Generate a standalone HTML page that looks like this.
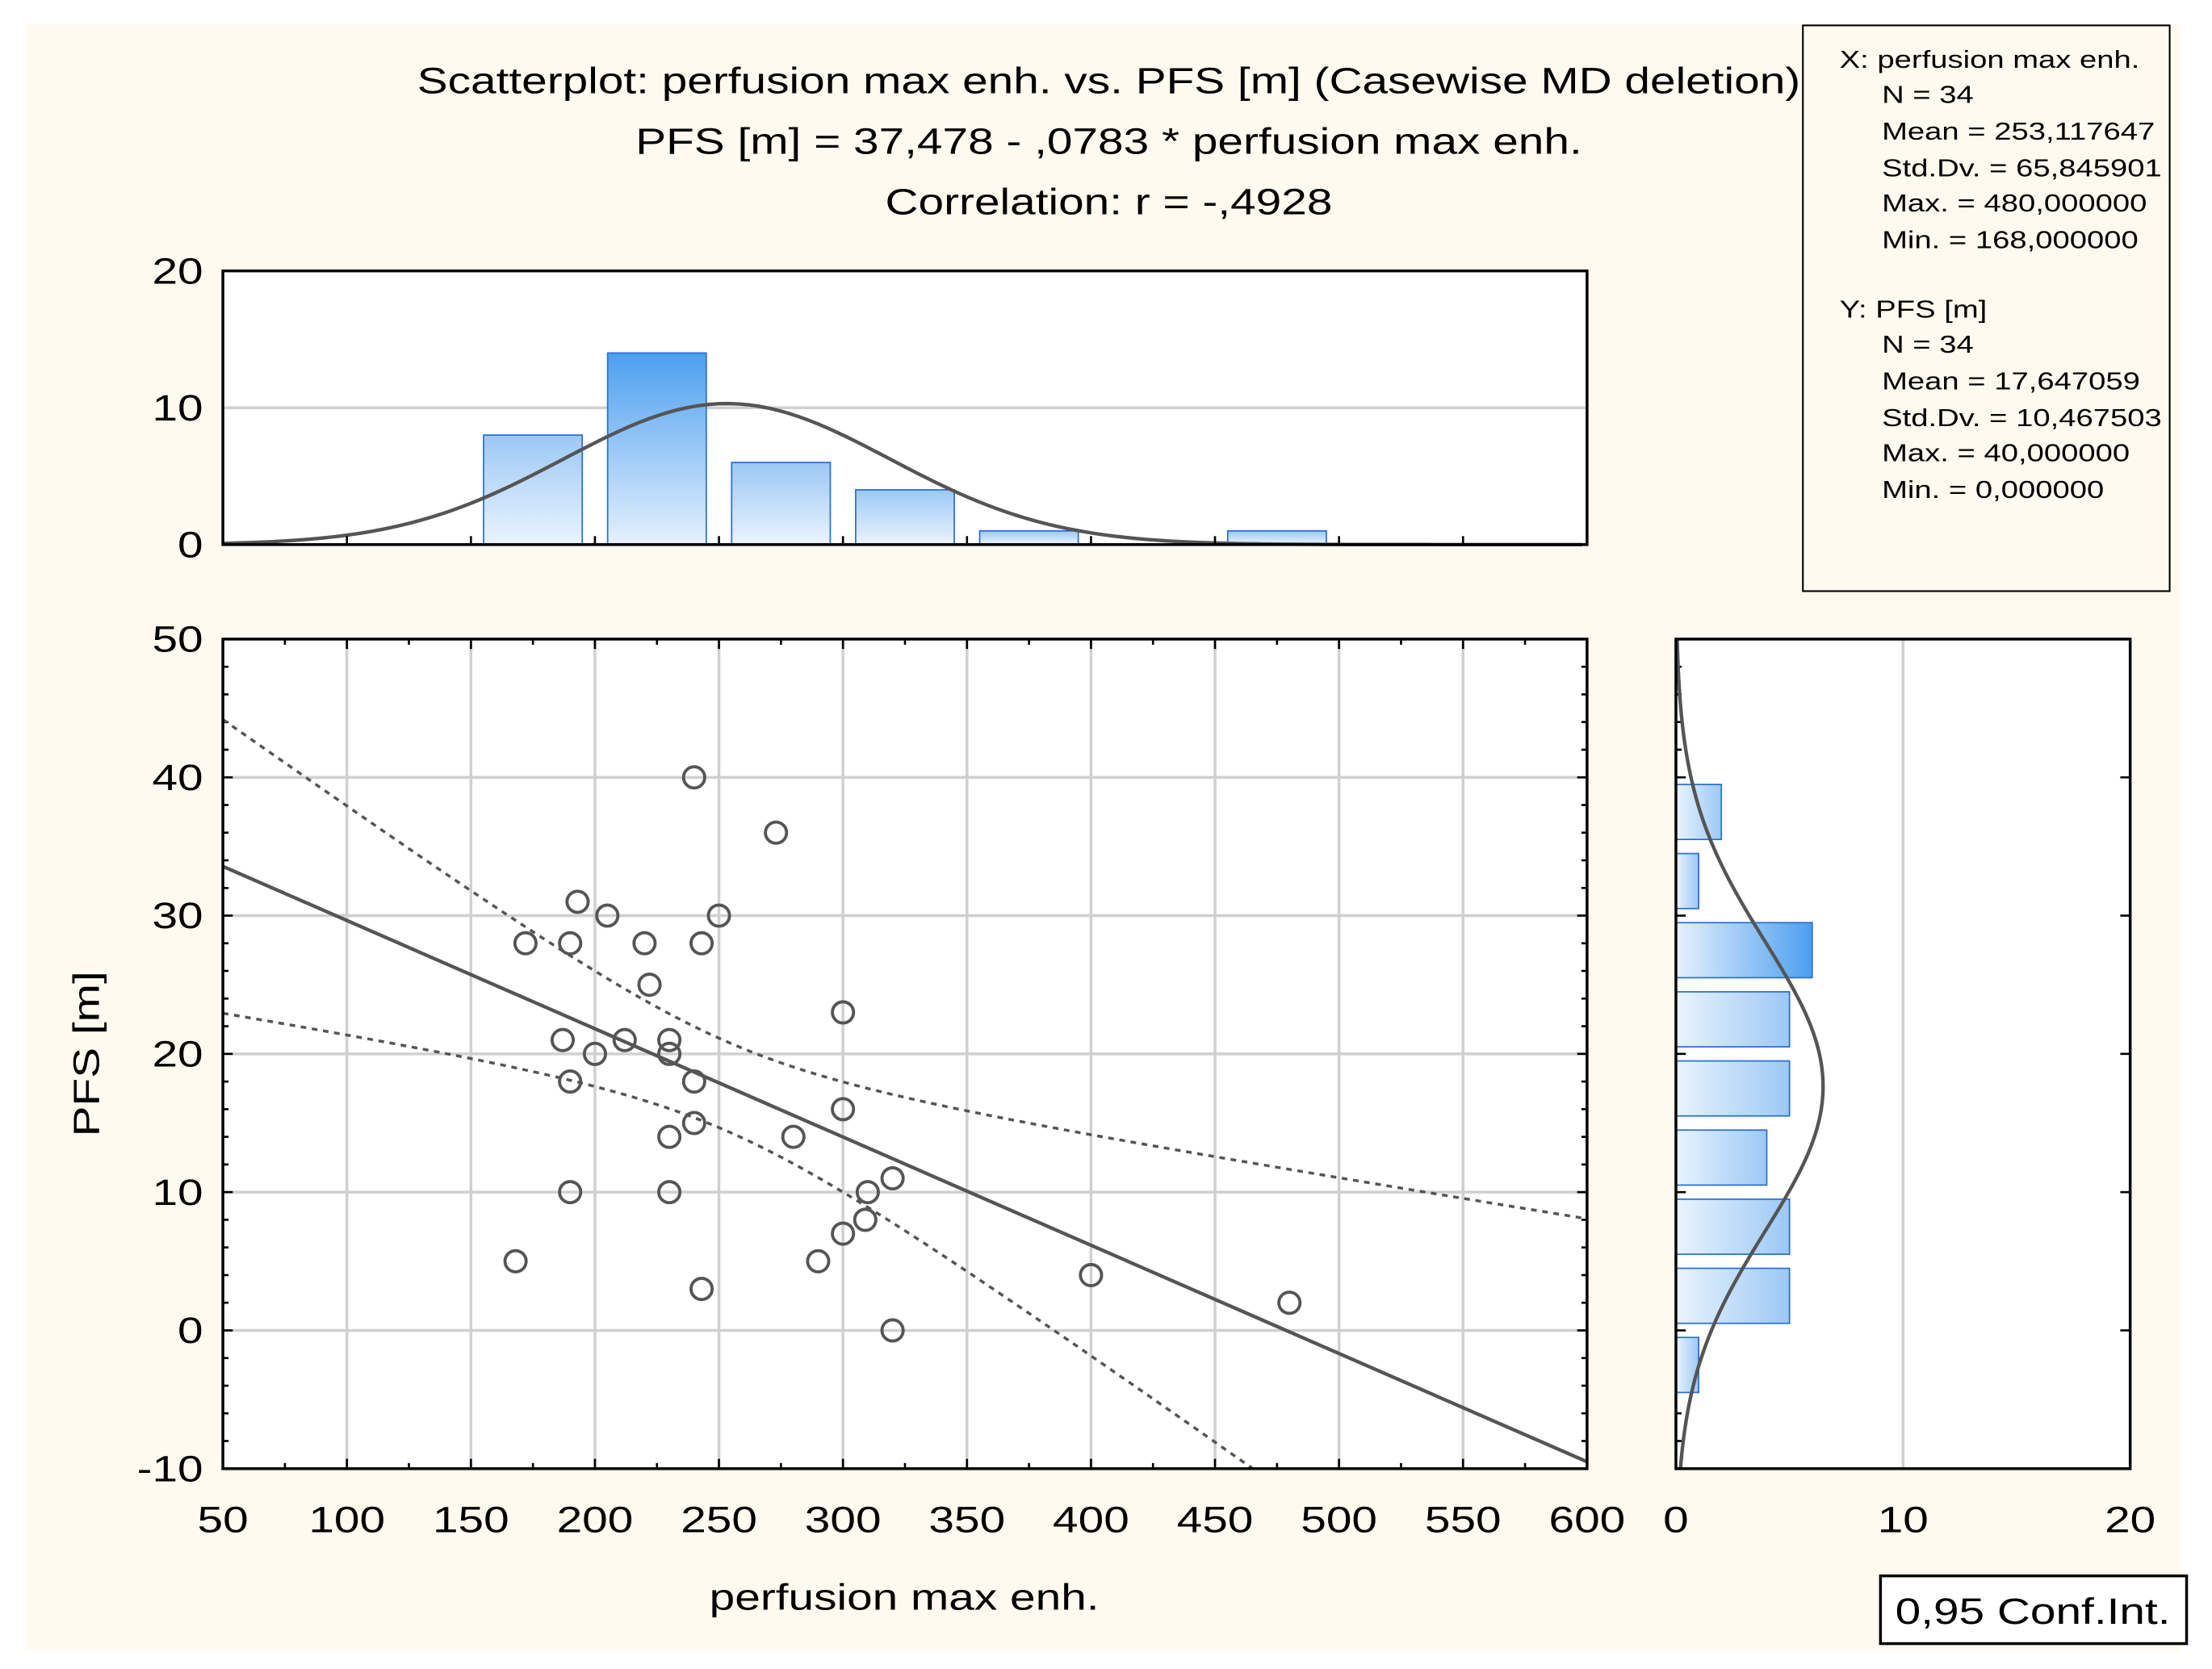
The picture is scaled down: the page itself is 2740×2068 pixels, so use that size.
<!DOCTYPE html>
<html><head><meta charset="utf-8"><style>
html,body{margin:0;padding:0;background:#fff;}
svg{display:block;font-family:"Liberation Sans",Arial,sans-serif;}
text{transform-box:fill-box;transform:scaleX(1.25);transform-origin:left center;}
text.m{transform-origin:center center;}
text.e{transform-origin:right center;}
</style></head><body>
<svg id="chart" width="2740" height="2068" viewBox="0 0 1568 1183" preserveAspectRatio="none" xmlns="http://www.w3.org/2000/svg">
<defs>
<linearGradient id="gv" x1="0" y1="0" x2="0" y2="1"><stop offset="0" stop-color="#9cc8f5"/><stop offset="1" stop-color="#eaf4fe"/></linearGradient>
<linearGradient id="gv2" x1="0" y1="0" x2="0" y2="1"><stop offset="0" stop-color="#4d9ff0"/><stop offset="1" stop-color="#e6f1fd"/></linearGradient>
<linearGradient id="gh" x1="1" y1="0" x2="0" y2="0"><stop offset="0" stop-color="#9cc8f5"/><stop offset="1" stop-color="#eaf4fe"/></linearGradient>
<linearGradient id="gh2" x1="1" y1="0" x2="0" y2="0"><stop offset="0" stop-color="#4d9ff0"/><stop offset="1" stop-color="#e6f1fd"/></linearGradient>
</defs>
<rect x="18" y="17" width="1527" height="1153" fill="#fefaef"/>
<g font-size="26" text-anchor="middle" fill="#000">
<text class="m" x="786" y="66">Scatterplot: perfusion max enh. vs. PFS [m] (Casewise MD deletion)</text>
<text class="m" x="786" y="109">PFS [m] = 37,478 - ,0783  * perfusion max enh.</text>
<text class="m" x="786" y="152">Correlation: r = -,4928</text>
</g>
<g id="stats" font-size="17.5">
<rect x="1278" y="18" width="260" height="401" fill="#fefaef" stroke="#000" stroke-width="1.2"/>
<text x="1304" y="48">X:  perfusion max enh.</text>
<text x="1334" y="73">N = 34</text>
<text x="1334" y="99">Mean = 253,117647</text>
<text x="1334" y="125">Std.Dv. = 65,845901</text>
<text x="1334" y="150">Max. = 480,000000</text>
<text x="1334" y="176">Min. = 168,000000</text>
<text x="1304" y="225">Y:  PFS [m]</text>
<text x="1334" y="250">N = 34</text>
<text x="1334" y="276">Mean = 17,647059</text>
<text x="1334" y="302">Std.Dv. = 10,467503</text>
<text x="1334" y="327">Max. = 40,000000</text>
<text x="1334" y="353">Min. = 0,000000</text>
</g>
<g id="topHist"></g>
<g id="mainPlot"></g>
<g id="rightHist"></g>
<g>
<rect x="1333" y="1117" width="217" height="48" fill="#fff" stroke="#000" stroke-width="2"/>
<text class="m" x="1441" y="1151" font-size="26" text-anchor="middle">0,95 Conf.Int.</text>
</g>
<text class="m" x="641" y="1141" font-size="26" text-anchor="middle">perfusion max enh.</text>
<g transform="translate(70,747) rotate(-90)"><text class="m" x="0" y="0" font-size="26" text-anchor="middle">PFS [m]</text></g>
</svg>
<script>
const xs = [240,273,193,205,250,172,190,220,243,222,300,187,212,230,200,230,190,240,300,240,230,280,320,190,230,310,309,300,168,290,243,400,480,320];
const ys = [40,36,31,30,30,28,28,28,28,25,23,21,21,21,20,20,18,18,16,15,14,14,11,10,10,10,8,7,5,5,3,4,2,0];
const xBinStarts = [150,200,250,300,350,400,450];
const xBinCounts = [8,14,6,4,1,0,1];
const yBinStarts = [-5,0,5,10,15,20,25,30,35];
const yBinCounts = [1,5,5,4,5,5,6,1,2];
const xTicks = [50,100,150,200,250,300,350,400,450,500,550,600];
const yTicks = [-10,0,10,20,30,40,50];
const histTicks = [0,10,20];
const intercept = 37.478, slope = -0.0783;

const NS = 'http://www.w3.org/2000/svg';
function mk(tag, attrs, parent){const e=document.createElementNS(NS,tag);for(const k in attrs)e.setAttribute(k,attrs[k]);parent.appendChild(e);return e;}
const X0=158,X1=1125,Y0=1041,Y1=453;
const sx=v=>X0+(v-50)/550*(X1-X0);
const sy=v=>Y0-(v+10)/60*(Y0-Y1);
const TY0=386,TY1=192; const thy=v=>TY0-v/20*(TY0-TY1);
const RX0=1188,RX1=1510; const rhx=v=>RX0+v/20*(RX1-RX0);
const n=xs.length;
const meanOf=a=>a.reduce((s,v)=>s+v,0)/a.length;
const mx=meanOf(xs), my=meanOf(ys);
const sdOf=(a,m)=>Math.sqrt(a.reduce((s,v)=>s+(v-m)*(v-m),0)/(a.length-1));
const sdx=sdOf(xs,mx), sdy=sdOf(ys,my);
const sxx=xs.reduce((s,v)=>s+(v-mx)*(v-mx),0);
let sse=0; for(let i=0;i<n;i++){const r=ys[i]-(intercept+slope*xs[i]);sse+=r*r;}
const seRes=Math.sqrt(sse/(n-2));
const tcrit=2.037;

// top histogram
const tg=document.getElementById('topHist');
mk('rect',{x:X0,y:TY1,width:X1-X0,height:TY0-TY1,fill:'#fff'},tg);
histTicks.forEach(t=>{
  if(t>0&&t<20){const l=mk('line',{x1:X0,x2:X1,y1:thy(t),y2:thy(t),stroke:'#d0d0d0','stroke-width':2},tg);
  
  }
  const tx=mk('text',{x:X0-14,y:thy(t)+9,'font-size':26,'text-anchor':'end','class':'e'},tg);tx.textContent=t;
  
  
});
const maxX=Math.max(...xBinCounts);
xBinStarts.forEach((b,i)=>{
  if(!xBinCounts[i])return;
  const r=mk('rect',{x:sx(b)+9,y:thy(xBinCounts[i]),width:sx(b+50)-sx(b)-18,height:TY0-thy(xBinCounts[i]),fill:xBinCounts[i]===maxX?'url(#gv2)':'url(#gv)',stroke:'#2a6fd6','stroke-width':1},tg);
  
  
});
let pts=[];for(let v=50;v<=600;v+=4){const d=n*50/(sdx*Math.sqrt(2*Math.PI))*Math.exp(-((v-mx)**2)/(2*sdx*sdx));pts.push(sx(v)+','+Math.max(thy(d),TY1));}
let nc=mk('polyline',{points:pts.join(' '),fill:'none',stroke:'#555','stroke-width':2.5},tg);


xTicks.forEach(t=>{mk('line',{x1:sx(t),x2:sx(t),y1:TY0,y2:TY0-6,stroke:'#000','stroke-width':1.5},tg);});
mk('rect',{x:X0,y:TY1,width:X1-X0,height:TY0-TY1,fill:'none',stroke:'#000','stroke-width':2},tg);

// main scatter
const g=document.getElementById('mainPlot');
mk('rect',{x:X0,y:Y1,width:X1-X0,height:Y0-Y1,fill:'#fff'},g);
xTicks.forEach(t=>{
  if(t>50&&t<600){const l=mk('line',{x1:sx(t),x2:sx(t),y1:Y1,y2:Y0,stroke:'#d0d0d0','stroke-width':2},g);
  
  }
  const tx=mk('text',{x:sx(t),y:Y0+45,'font-size':26,'text-anchor':'middle','class':'m'},g);tx.textContent=t;
  
  
});
yTicks.forEach(t=>{
  if(t>-10&&t<50){const l=mk('line',{x1:X0,x2:X1,y1:sy(t),y2:sy(t),stroke:'#d0d0d0','stroke-width':2},g);
  
  }
  const tx=mk('text',{x:X0-14,y:sy(t)+9,'font-size':26,'text-anchor':'end','class':'e'},g);tx.textContent=t;
  
  
});
for(let v=50;v<=600;v+=25){mk('line',{x1:sx(v),x2:sx(v),y1:Y0,y2:Y0-(v%50?4:7),stroke:'#000','stroke-width':1.5},g);mk('line',{x1:sx(v),x2:sx(v),y1:Y1,y2:Y1+(v%50?4:7),stroke:'#000','stroke-width':1.5},g);}
for(let v=-10;v<=50;v+=2){const L=v%10?4:7;mk('line',{x1:X0,x2:X0+L,y1:sy(v),y2:sy(v),stroke:'#000','stroke-width':1.5},g);mk('line',{x1:X1,x2:X1-L,y1:sy(v),y2:sy(v),stroke:'#000','stroke-width':1.5},g);}
const clip=mk('clipPath',{id:'mclip'},g);mk('rect',{x:X0,y:Y1,width:X1-X0,height:Y0-Y1},clip);
const band=(sign)=>{let p=[];for(let v=50;v<=600;v+=5){const f=intercept+slope*v;const h=tcrit*seRes*Math.sqrt(1/n+(v-mx)**2/sxx);p.push(sx(v)+','+sy(f+sign*h));}return p.join(' ');};
let bu=mk('polyline',{points:band(1),fill:'none',stroke:'#555','stroke-width':2,'stroke-dasharray':'4,4','clip-path':'url(#mclip)'},g);


let bl=mk('polyline',{points:band(-1),fill:'none',stroke:'#555','stroke-width':2,'stroke-dasharray':'4,4','clip-path':'url(#mclip)'},g);


let rl=mk('line',{x1:sx(50),y1:sy(intercept+slope*50),x2:sx(600),y2:sy(intercept+slope*600),stroke:'#555','stroke-width':2.5,'clip-path':'url(#mclip)'},g);


for(let i=0;i<n;i++){
  const c=mk('circle',{cx:sx(xs[i]),cy:sy(ys[i]),r:7.5,fill:'none',stroke:'#555','stroke-width':2.2},g);
  
  
}
mk('rect',{x:X0,y:Y1,width:X1-X0,height:Y0-Y1,fill:'none',stroke:'#000','stroke-width':2},g);

// right histogram
const rg=document.getElementById('rightHist');
mk('rect',{x:RX0,y:Y1,width:RX1-RX0,height:Y0-Y1,fill:'#fff'},rg);
histTicks.forEach(t=>{
  if(t>0&&t<20){const l=mk('line',{x1:rhx(t),x2:rhx(t),y1:Y1,y2:Y0,stroke:'#d0d0d0','stroke-width':2},rg);
  
  }
  const tx=mk('text',{x:rhx(t),y:Y0+45,'font-size':26,'text-anchor':'middle','class':'m'},rg);tx.textContent=t;
  
  
});
yTicks.forEach(t=>{mk('line',{x1:RX1,x2:RX1-7,y1:sy(t),y2:sy(t),stroke:'#000','stroke-width':1.5},rg);});
for(let v=-10;v<=50;v+=2){mk('line',{x1:RX0,x2:RX0+(v%10?4:7),y1:sy(v),y2:sy(v),stroke:'#000','stroke-width':1.5},rg);}
const maxY=Math.max(...yBinCounts);
yBinStarts.forEach((b,i)=>{
  if(!yBinCounts[i])return;
  const r=mk('rect',{x:RX0,y:sy(b+5)+5,width:rhx(yBinCounts[i])-RX0,height:sy(b)-sy(b+5)-10,fill:yBinCounts[i]===maxY?'url(#gh2)':'url(#gh)',stroke:'#2a6fd6','stroke-width':1},rg);
  
  
});
pts=[];for(let v=-10;v<=50;v+=0.5){const d=n*5/(sdy*Math.sqrt(2*Math.PI))*Math.exp(-((v-my)**2)/(2*sdy*sdy));pts.push(rhx(d)+','+sy(v));}
nc=mk('polyline',{points:pts.join(' '),fill:'none',stroke:'#555','stroke-width':2.5},rg);


mk('rect',{x:RX0,y:Y1,width:RX1-RX0,height:Y0-Y1,fill:'none',stroke:'#000','stroke-width':2},rg);
</script>
</body></html>
